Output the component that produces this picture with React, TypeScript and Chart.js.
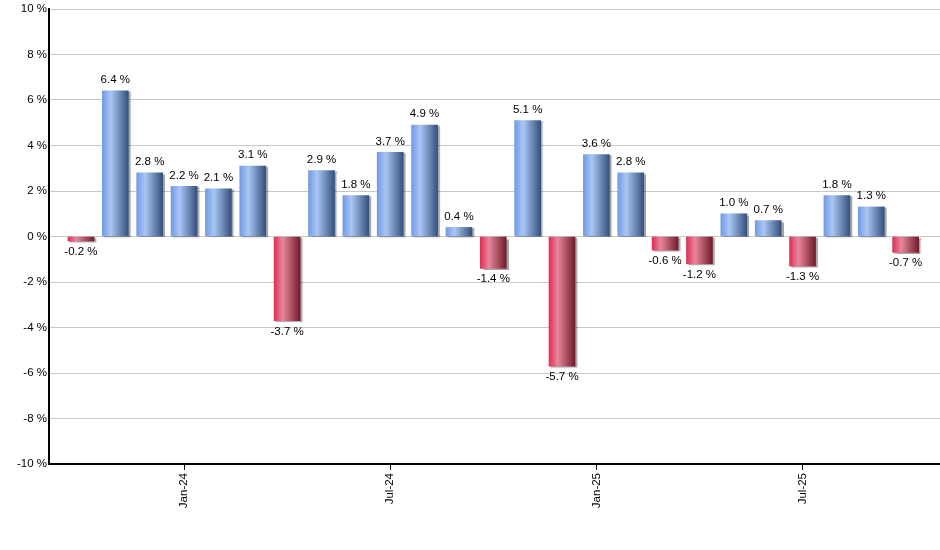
import React, { useEffect, useRef } from "react";
import { Chart, registerables } from "chart.js";

Chart.register(...registerables);

const months = [
  "Oct-23", "Nov-23", "Dec-23", "Jan-24", "Feb-24", "Mar-24", "Apr-24", "May-24", "Jun-24",
  "Jul-24", "Aug-24", "Sep-24", "Oct-24", "Nov-24", "Dec-24", "Jan-25", "Feb-25", "Mar-25",
  "Apr-25", "May-25", "Jun-25", "Jul-25", "Aug-25", "Sep-25", "Oct-25",
];
const returns = [
  -0.2, 6.4, 2.8, 2.2, 2.1, 3.1, -3.7, 2.9, 1.8, 3.7, 4.9, 0.4, -1.4, 5.1, -5.7, 3.6, 2.8, -0.6,
  -1.2, 1.0, 0.7, -1.3, 1.8, 1.3, -0.7,
];
const xTickLabels = ["Jan-24", "Jul-24", "Jan-25", "Jul-25"];
const yTicks = [-10, -8, -6, -4, -2, 0, 2, 4, 6, 8, 10];

const FONT = "'Liberation Sans', Arial, sans-serif";
const FONT_SIZE = 11.5;
const BAR_W = 26;

export default function App() {
  const ref = useRef<HTMLCanvasElement | null>(null);

  useEffect(() => {
    document.body.style.margin = "0";
    const canvas = ref.current;
    if (!canvas) return;

    const tickPositions = xTickLabels.map((l) => months.indexOf(l));

    const bg = (c: any) => {
      const chart = c.chart;
      const xs = chart.scales && chart.scales.x;
      const v = c.raw ? c.raw.y : 0;
      const neg = v < 0;
      if (!xs || c.type !== "data" || !isFinite(xs.getPixelForValue(c.dataIndex))) {
        return neg ? "#c83a58" : "#6f90d0";
      }
      const cx = xs.getPixelForValue(c.dataIndex);
      const g = chart.ctx.createLinearGradient(cx - BAR_W / 2, 0, cx + BAR_W / 2, 0);
      if (neg) {
        g.addColorStop(0, "#de2f55");
        g.addColorStop(0.33, "#e8879c");
        g.addColorStop(1, "#721c2e");
      } else {
        g.addColorStop(0, "#729be6");
        g.addColorStop(0.33, "#aac6f4");
        g.addColorStop(1, "#34507c");
      }
      return g;
    };

    const labelPlugin = {
      id: "barLabels",
      beforeDatasetsDraw(chart: any) {
        const ctx = chart.ctx;
        ctx.save();
        ctx.shadowColor = "rgba(0,0,0,0.35)";
        ctx.shadowOffsetX = 2;
        ctx.shadowOffsetY = 1;
        ctx.shadowBlur = 1;
      },
      afterDatasetsDraw(chart: any) {
        const ctx = chart.ctx;
        ctx.restore();
        const meta = chart.getDatasetMeta(0);
        ctx.save();
        ctx.font = `${FONT_SIZE}px ${FONT}`;
        ctx.fillStyle = "#000";
        ctx.textAlign = "center";
        meta.data.forEach((el: any, i: number) => {
          const v = returns[i];
          const txt = v.toFixed(1) + " %";
          if (v >= 0) {
            ctx.textBaseline = "bottom";
            ctx.fillText(txt, el.x, el.y - 5);
          } else {
            ctx.textBaseline = "top";
            ctx.fillText(txt, el.x, el.y + 5);
          }
        });
        ctx.restore();
      },
    };

    const chart = new Chart(canvas, {
      type: "bar",
      data: {
        datasets: [
          {
            data: returns.map((v, i) => ({ x: i, y: v })),
            backgroundColor: bg,
            borderWidth: 0,
            barThickness: BAR_W,
          },
        ],
      },
      options: {
        animation: false,
        responsive: false,
        devicePixelRatio: 1,
        layout: { padding: { top: 9, right: 0, left: 0, bottom: 0 } },
        plugins: { legend: { display: false }, tooltip: { enabled: false } },
        scales: {
          x: {
            type: "linear",
            offset: false,
            min: -0.93,
            max: 25,
            afterBuildTicks: (s: any) => {
              s.ticks = tickPositions.map((v) => ({ value: v }));
            },
            afterFit: (s: any) => {
              s.height = 86;
            },
            ticks: {
              autoSkip: false,
              minRotation: 90,
              maxRotation: 90,
              padding: 3,
              color: "#000",
              font: { family: FONT, size: FONT_SIZE },
              callback: (v: any) => {
                const idx = tickPositions.indexOf(Number(v));
                return idx >= 0 ? xTickLabels[idx] : "";
              },
            },
            grid: {
              display: true,
              offset: false,
              drawOnChartArea: false,
              drawTicks: true,
              tickLength: 6,
              color: "#000",
              lineWidth: 1,
            },
            border: { display: true, color: "#000", width: 2 },
          },
          y: {
            min: -10,
            max: 10,
            afterBuildTicks: (s: any) => {
              s.ticks = yTicks.map((v) => ({ value: v }));
            },
            afterFit: (s: any) => {
              s.width = 49;
            },
            ticks: {
              padding: 2,
              color: "#000",
              font: { family: FONT, size: FONT_SIZE },
              callback: (v: any) => `${v} %`,
            },
            grid: { color: "#c8c8c8", lineWidth: 1, drawTicks: false },
            border: { display: true, color: "#000", width: 2 },
          },
        },
      },
      plugins: [labelPlugin],
    });

    return () => chart.destroy();
  }, []);

  return (
    <div style={{ position: "absolute", left: 0, top: 0, width: 940, height: 550, background: "#fff" }}>
      <canvas ref={ref} width={940} height={550} />
    </div>
  );
}
